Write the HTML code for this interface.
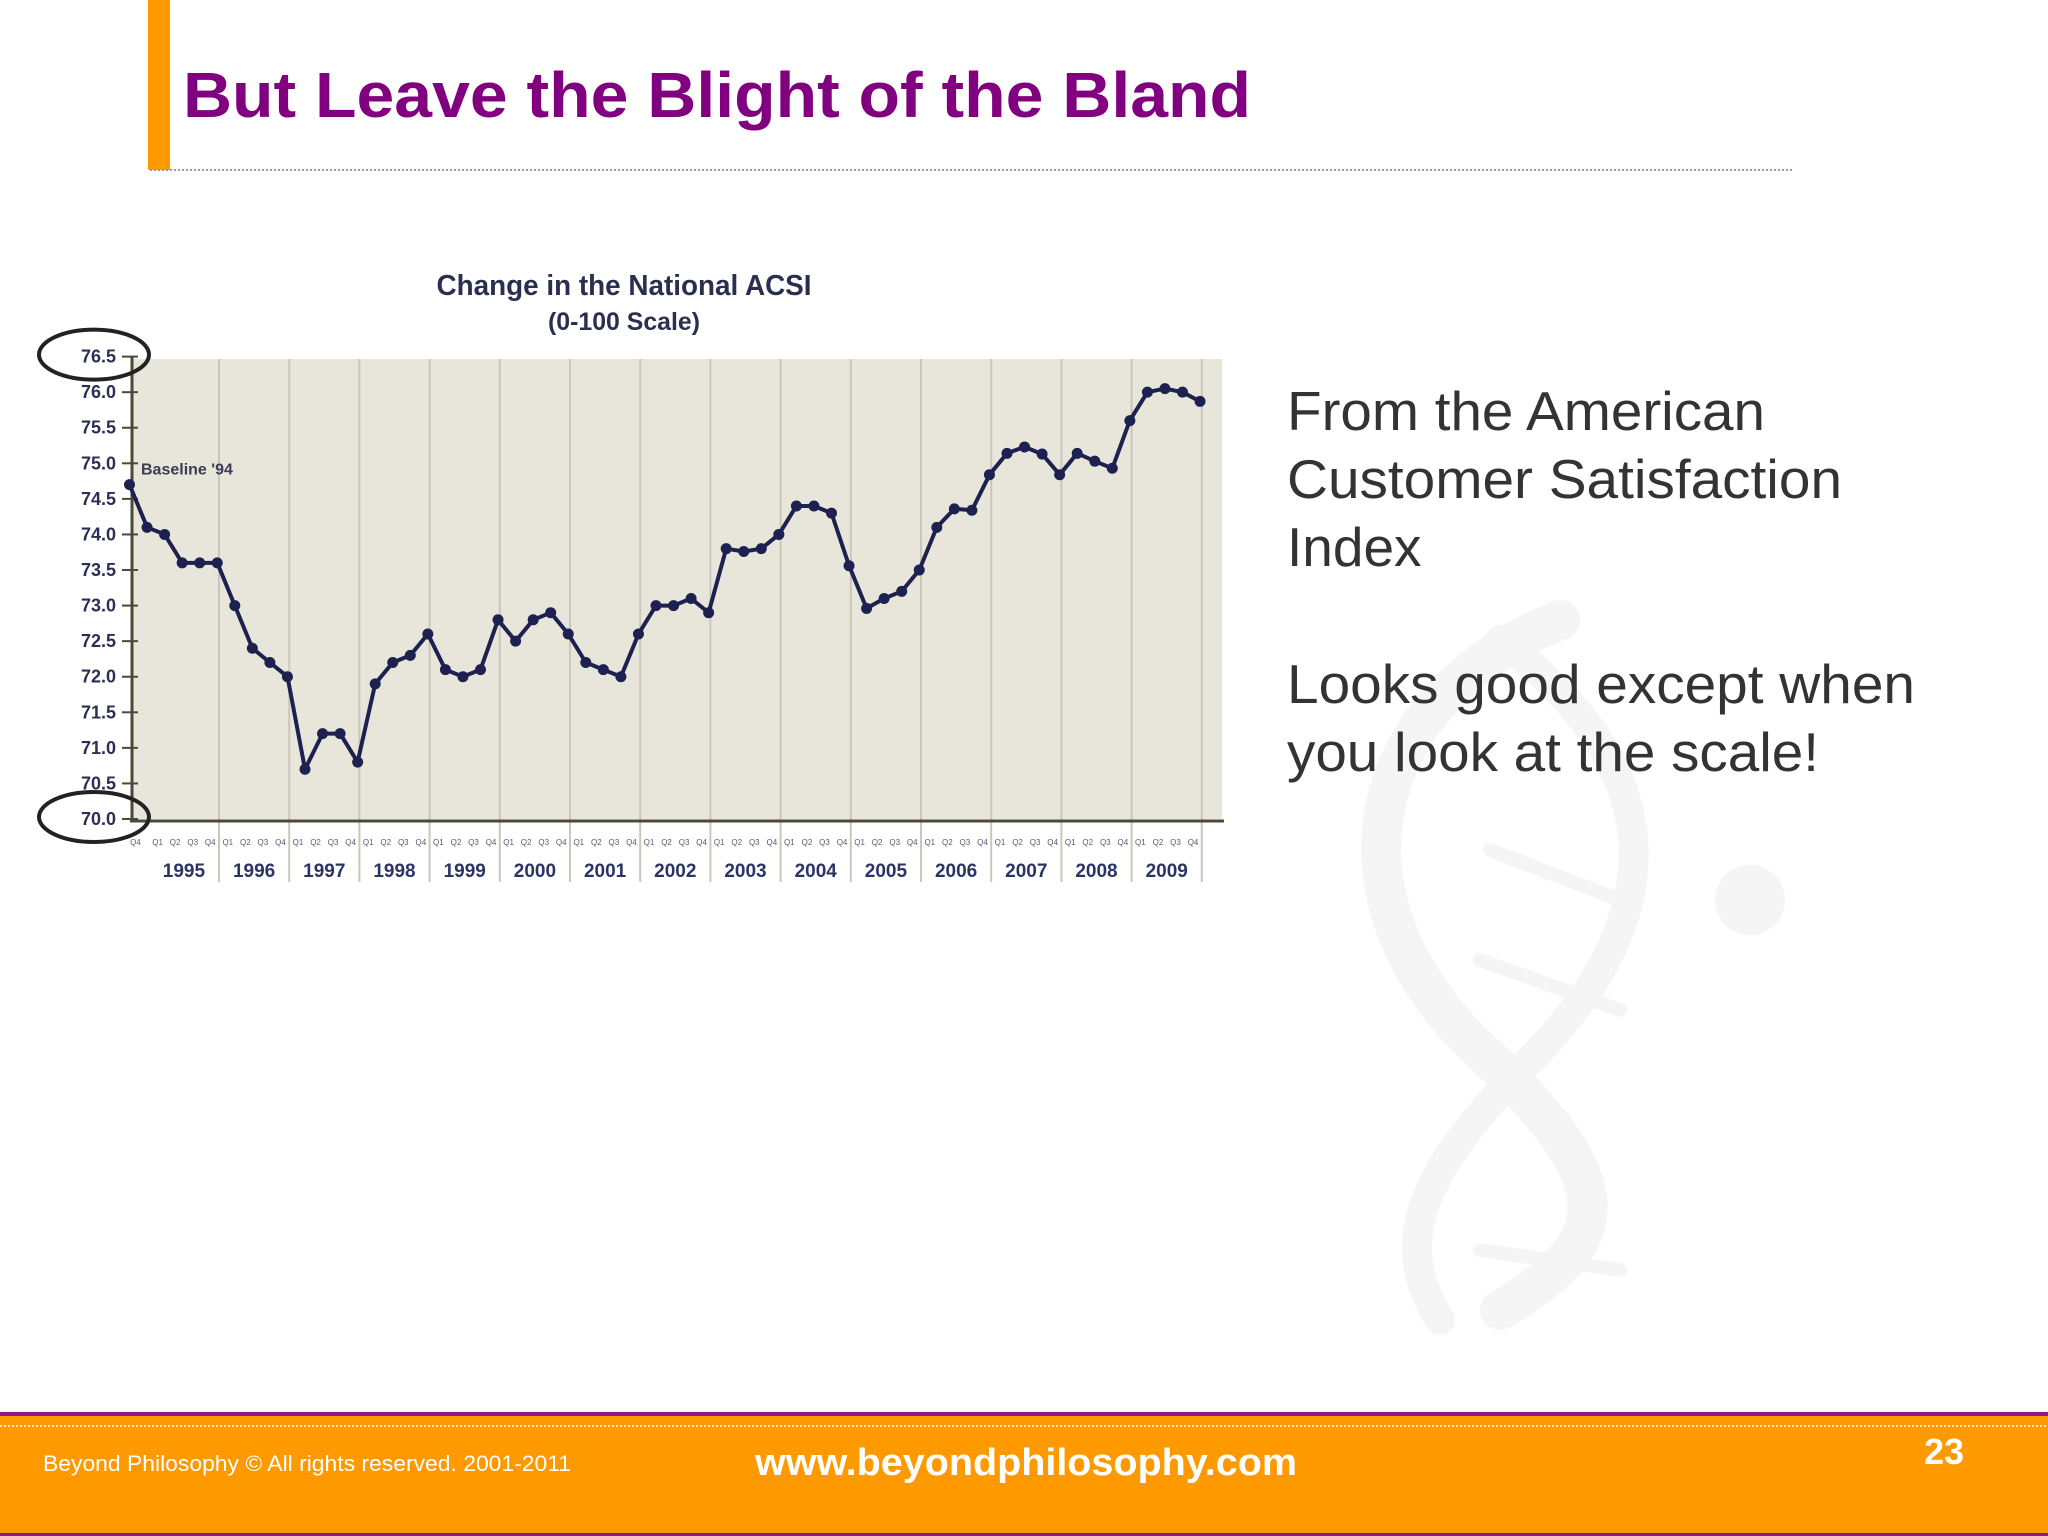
<!DOCTYPE html>
<html><head><meta charset="utf-8"><style>
html,body{margin:0;padding:0;background:#fff;}
svg{display:block;font-family:"Liberation Sans",Arial,sans-serif;}
</style></head><body>
<svg id="slide" width="2048" height="1536" viewBox="0 0 2048 1536">
<g fill="none" stroke="#f5f5f5" stroke-width="40" stroke-linecap="round" transform="translate(60,0)">
<path d="M1500 620 C1300 700 1260 900 1420 1050 C1560 1180 1560 1240 1440 1310"/>
<path d="M1440 640 C1600 760 1620 900 1480 1050 C1360 1170 1330 1240 1380 1320" stroke-width="30"/>
<line x1="1430" y1="850" x2="1560" y2="900" stroke-width="14"/>
<line x1="1420" y1="960" x2="1560" y2="1010" stroke-width="14"/>
<line x1="1420" y1="1250" x2="1560" y2="1270" stroke-width="14"/>
<circle cx="1690" cy="900" r="35" fill="#f5f5f5" stroke="none"/>
</g>
<rect x="148" y="0" width="22" height="170" fill="#ff9900"/>
<line x1="150" y1="170" x2="1792" y2="170" stroke="#999" stroke-width="2" stroke-dasharray="2,2"/>
<text x="183" y="117" font-size="64" font-weight="bold" fill="#800080" textLength="1068" lengthAdjust="spacingAndGlyphs">But Leave the Blight of the Bland</text>

<g font-size="55" fill="#333">
<text x="1287" y="430" textLength="478" lengthAdjust="spacingAndGlyphs">From the American</text>
<text x="1287" y="498" textLength="555" lengthAdjust="spacingAndGlyphs">Customer Satisfaction</text>
<text x="1287" y="566">Index</text>
<text x="1287" y="703" textLength="628" lengthAdjust="spacingAndGlyphs">Looks good except when</text>
<text x="1287" y="771" textLength="532" lengthAdjust="spacingAndGlyphs">you look at the scale!</text>
</g>

<g id="chart"></g>

<g>
<rect x="0" y="1414" width="2048" height="122" fill="#ff9900"/>
<rect x="0" y="1412" width="2048" height="4" fill="#8a1a8a"/>
<rect x="0" y="1533" width="2048" height="3" fill="#8a1a8a"/>
<line x1="0" y1="1426" x2="2048" y2="1426" stroke="#fff" stroke-width="2" stroke-dasharray="2,2" opacity="0.8"/>
<text x="43" y="1471" font-size="22" fill="#fff" textLength="528" lengthAdjust="spacingAndGlyphs">Beyond Philosophy © All rights reserved. 2001-2011</text>
<text x="755" y="1475" font-size="38" font-weight="bold" fill="#fff" textLength="542" lengthAdjust="spacingAndGlyphs">www.beyondphilosophy.com</text>
<text x="1924" y="1464" font-size="36" font-weight="bold" fill="#fff">23</text>
</g>
</svg>
<script>
const values = [74.7,
74.1,74.0,73.6,73.6,73.6,
73.0,72.4,72.2,72.0,
70.7,71.2,71.2,70.8,
71.9,72.2,72.3,72.6,
72.1,72.0,72.1,72.8,
72.5,72.8,72.9,72.6,
72.2,72.1,72.0,72.6,
73.0,73.0,73.1,72.9,
73.8,73.76,73.8,74.0,
74.4,74.4,74.3,73.56,
72.96,73.1,73.2,73.5,
74.1,74.36,74.34,74.84,
75.14,75.23,75.13,74.84,
75.14,75.03,74.93,75.6,
76.0,76.05,76.0,75.87];
const years = ["1995","1996","1997","1998","1999","2000","2001","2002","2003","2004","2005","2006","2007","2008","2009"];
const yTicks = [70.0,70.5,71.0,71.5,72.0,72.5,73.0,73.5,74.0,74.5,75.0,75.5,76.0,76.5];
const quarterNames = ["Q1","Q2","Q3","Q4"];

const NS = "http://www.w3.org/2000/svg";
const g = document.getElementById('chart');
const X0 = 129.5, DX = 17.55;
const Y0 = 819, Y1 = 356.6, VMIN = 70, VMAX = 76.5;
const xs = i => X0 + i*DX;
const ys = v => Y0 - (v - VMIN)/(VMAX - VMIN)*(Y0 - Y1);
const firstDiv = 5.1;
function el(tag, attrs, parent){ const e=document.createElementNS(NS,tag); for(const k in attrs) e.setAttribute(k,attrs[k]); (parent||g).appendChild(e); return e; }
const cf = '"Liberation Sans Narrow","Liberation Sans",Arial,sans-serif';

let t = el('text',{x:624,y:295,'font-size':29,'font-weight':'bold','text-anchor':'middle',fill:'#2b2f4e','font-family':cf,textLength:375,lengthAdjust:'spacingAndGlyphs'});


t.textContent='Change in the National ACSI';
t = el('text',{x:624,y:330,'font-size':25,'font-weight':'bold','text-anchor':'middle',fill:'#2b2f4e','font-family':cf,textLength:152,lengthAdjust:'spacingAndGlyphs'});


t.textContent='(0-100 Scale)';

let bg = el('rect',{x:132,y:359,width:1090,height:Y0-359,fill:'#e8e6da'});



years.forEach((yr,k)=>{
  const d = firstDiv + 4*k;
  const ln = el('line',{x1:xs(d),y1:359,x2:xs(d),y2:882,stroke:'#c9c7bb','stroke-width':2});
  
  
  const lab = el('text',{x:xs(d-2),y:877,'font-size':19,'font-weight':'bold','text-anchor':'middle',fill:'#2c3466','font-family':cf});
  
  
  lab.textContent = yr;
  quarterNames.forEach((q,j)=>{
    const ql = el('text',{x:xs(d-3.5+j),y:845,'font-size':8,'text-anchor':'middle',fill:'#555a70'});
    
    
    ql.textContent = q;
  });
});
let q0 = el('text',{x:xs(0)+6,y:845,'font-size':8,'text-anchor':'middle',fill:'#555a70'});


q0.textContent='Q4';

let ax = el('line',{x1:132,y1:356,x2:132,y2:Y0+2,stroke:'#4a4a38','stroke-width':3});


ax = el('line',{x1:130,y1:Y0+2,x2:1224,y2:Y0+2,stroke:'#4a4a38','stroke-width':3});



yTicks.forEach(v=>{
  const tk = el('line',{x1:122,y1:ys(v),x2:138,y2:ys(v),stroke:'#4a4a38','stroke-width':2});
  
  
  const tl = el('text',{x:116,y:ys(v)+6,'font-size':18,'font-weight':'bold','text-anchor':'end',fill:'#2b2f55','font-family':cf});
  
  
  tl.textContent = v.toFixed(1);
});

const pts = values.map((v,i)=>xs(i).toFixed(1)+','+ys(v).toFixed(1)).join(' ');
const line = el('polyline',{points:pts,fill:'none',stroke:'#1c2150','stroke-width':4,'stroke-linejoin':'round'});


values.forEach((v,i)=>{
  const c = el('circle',{cx:xs(i),cy:ys(v),r:5.5,fill:'#1c2150'});
  
  
});
let bl = el('text',{x:141,y:ys(values[0])-10,'font-size':16,'font-weight':'bold',fill:'#3a3d55','font-family':cf});


bl.textContent="Baseline '94";

[76.5,70.0].forEach(v=>{
  const e = el('ellipse',{cx:94,cy:ys(v)-2,rx:55,ry:25,fill:'none',stroke:'#222','stroke-width':4});
  
  
});
</script>
</body></html>
